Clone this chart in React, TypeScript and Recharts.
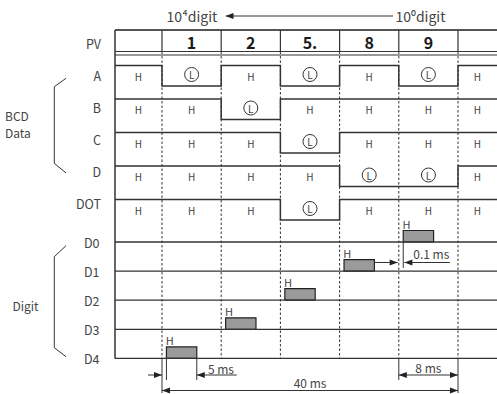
import React from 'react'
import { ComposedChart, XAxis, YAxis, Line, Scatter, ReferenceLine, ReferenceArea } from 'recharts'

// ---- values ----
const placeLabels = ['10⁴digit', '10⁰digit']
const pvDigits = ['1', '2', '5.', '8', '9']
const bcdNames = ['A', 'B', 'C', 'D', 'DOT']
// level of each BCD line per column: lead-in, the 5 digits, lead-out
const levelsA = ['H', 'L', 'H', 'L', 'H', 'L', 'H']
const levelsB = ['H', 'H', 'L', 'H', 'H', 'H', 'H']
const levelsC = ['H', 'H', 'H', 'L', 'H', 'H', 'H']
const levelsD = ['H', 'H', 'H', 'H', 'L', 'L', 'H']
const levelsDot = ['H', 'H', 'H', 'L', 'H', 'H', 'H']
const digitNames = ['D0', 'D1', 'D2', 'D3', 'D4']
const scanOrder = ['D4', 'D3', 'D2', 'D1', 'D0']
const slotMs = 8
const pulseOnMs = 0.6
const pulseOffMs = 4.7
const dimLabels = ['5 ms', '0.1 ms', '8 ms', '40 ms']
const groupLabels = ['BCD', 'Data', 'Digit']

// ---- layout ----
const W = 497
const H = 394
const X0 = 162 // where t = 0 sits
const PX_MS = 7.4
const toT = (px: number) => (px - X0) / PX_MS
const T_MIN = toT(0)
const T_MAX = toT(W)
const T_FRAME = toT(115)

const INK = '#333'
const TXT = '#444'
const FONT = '"Noto Sans CJK JP", "Noto Sans", sans-serif'

const PV_TOP = 30
const PV_BOT = 51.5
const SEP_Y = 55
const SWING = 20.5
const BCD_HI = bcdNames.map((_, i) => 65.5 + 33.5 * i)
const BCD_LABEL_Y = bcdNames.map((_, i) => 75.3 + 32.1 * i)
const DIGIT_Y = digitNames.map((_, i) => 242 + 29.1 * i)
const PULSE_H = 11.5
const GRID_BOT = DIGIT_Y[DIGIT_Y.length - 1]

const edges = [...pvDigits.map((_, i) => i * slotMs), pvDigits.length * slotMs]
const colBounds = [T_FRAME, ...edges, T_MAX]
const allLevels = [levelsA, levelsB, levelsC, levelsD, levelsDot]

const waveData = (levels: string[], hi: number) => {
  const pts = levels.map((lv, c) => ({ t: colBounds[c], y: lv === 'H' ? hi : hi + SWING }))
  pts.push({ t: T_MAX, y: pts[pts.length - 1].y })
  return pts
}

const mid = (c: number) => (colBounds[c] + colBounds[c + 1]) / 2
const hTags = allLevels.flatMap((lv, i) =>
  lv.map((v, c) => ({ v, c })).filter((o) => o.v === 'H').map((o) => ({ t: mid(o.c), y: BCD_HI[i] + 10.5, text: 'H' }))
)
const lTags = allLevels.flatMap((lv, i) =>
  lv.map((v, c) => ({ v, c })).filter((o) => o.v === 'L').map((o) => ({ t: mid(o.c), y: BCD_HI[i] + 9, text: 'L' }))
)

const pulses = scanOrder.map((name, s) => {
  const lane = DIGIT_Y[digitNames.indexOf(name)]
  return { x1: s * slotMs + pulseOnMs, x2: s * slotMs + pulseOffMs, y1: lane - PULSE_H, y2: lane }
})
const pulseTags = pulses.map((p) => ({ t: p.x1 - 0.1, y: p.y1 - 7, text: 'H', anchor: 'start' }))

const labelX = toT(101)
const sideTags = [
  { t: labelX, y: 43, text: 'PV' },
  ...bcdNames.map((n, i) => ({ t: labelX, y: BCD_LABEL_Y[i], text: n })),
  ...digitNames.map((n, i) => ({ t: labelX - 0.2, y: DIGIT_Y[i], text: n })),
].map((o) => ({ ...o, anchor: 'end' }))

const groupTags = [
  { t: toT(5), y: 115, text: groupLabels[0], anchor: 'start' },
  { t: toT(5), y: 132.5, text: groupLabels[1], anchor: 'start' },
  { t: toT(12.5), y: 305, text: groupLabels[2], anchor: 'start' },
]

const pvTags = pvDigits.map((d, i) => ({ t: mid(i + 1), y: 42, text: d }))

const lastSlot = (pvDigits.length - 1) * slotMs
const total = pvDigits.length * slotMs
const dimTags = [
  { t: pulseOffMs + 1.5, y: 368.5, text: dimLabels[0], anchor: 'start' },
  { t: lastSlot + 1.95, y: 253.5, text: dimLabels[1], anchor: 'start' },
  { t: lastSlot + slotMs / 2, y: 367, text: dimLabels[2], anchor: 'middle' },
  { t: total / 2, y: 382, text: dimLabels[3], anchor: 'middle' },
]
const topTags = [
  { t: toT(166.5), y: 16, text: placeLabels[0], anchor: 'start' },
  { t: toT(395.5), y: 16, text: placeLabels[1], anchor: 'start' },
]

// arrow heads: dir 1 points right, -1 points left
const heads = [
  { t: toT(225.5), y: 16, dir: -1 },
  { t: 0, y: 375, dir: 1 },
  { t: pulseOffMs, y: 375, dir: -1 },
  { t: lastSlot - 0.15, y: 262.5, dir: 1 },
  { t: lastSlot + pulseOnMs + 0.15, y: 262.5, dir: -1 },
  { t: lastSlot, y: 375, dir: -1 },
  { t: total, y: 375, dir: 1 },
  { t: 0, y: 390.5, dir: -1 },
  { t: total, y: 390.5, dir: 1 },
]

const textShape = (size: number, weight: number | string, color: string, defAnchor = 'middle') => (p: any) => (
  <text
    x={p.cx}
    y={p.cy}
    textAnchor={p.payload.anchor ?? defAnchor}
    dominantBaseline="central"
    fontFamily={FONT}
    fontSize={size}
    fontWeight={weight}
    fill={color}
  >
    {p.payload.text}
  </text>
)

const circleShape = (p: any) => (
  <g>
    <circle cx={p.cx} cy={p.cy} r={7} fill="#fff" stroke={INK} strokeWidth={1} />
    <text x={p.cx} y={p.cy} textAnchor="middle" dominantBaseline="central" fontFamily={FONT} fontSize={10} fill={TXT}>
      L
    </text>
  </g>
)

const headShape = (p: any) => {
  const d = p.payload.dir
  const pts = `${p.cx},${p.cy} ${p.cx - 8 * d},${p.cy - 3} ${p.cx - 8 * d},${p.cy + 3}`
  return <polygon points={pts} fill="#222" />
}

const seg = (key: string, x1: number, y1: number, x2: number, y2: number, extra: any = {}) => (
  <ReferenceLine
    key={key}
    segment={[{ x: x1, y: y1 }, { x: x2, y: y2 }]}
    stroke={INK}
    strokeWidth={1.2}
    ifOverflow="visible"
    {...extra}
  />
)

export default function App() {
  const bx = toT(54.3)
  const bx2 = toT(66)
  return (
    <div style={{ position: 'absolute', left: 0, top: 0, width: W, height: H, background: '#fff' }}>
      <ComposedChart width={W} height={H} margin={{ top: 0, right: 0, bottom: 0, left: 0 }}>
        <XAxis type="number" dataKey="t" domain={[T_MIN, T_MAX]} allowDataOverflow hide />
        <YAxis type="number" dataKey="y" domain={[0, H]} reversed allowDataOverflow hide />

        {/* PV header box */}
        {seg('pvtop', T_FRAME, PV_TOP, T_MAX, PV_TOP, { strokeWidth: 2, stroke: '#555' })}
        {seg('pvbot', T_FRAME, PV_BOT, T_MAX, PV_BOT)}
        {seg('sep', T_FRAME, SEP_Y, T_MAX, SEP_Y, { strokeWidth: 1 })}
        {seg('frame', T_FRAME, PV_TOP, T_FRAME, GRID_BOT, { strokeWidth: 1.5 })}
        {edges.map((t) => seg(`pvc${t}`, t, PV_TOP, t, PV_BOT))}

        {/* slot boundaries */}
        {edges.map((t) => seg(`dash${t}`, t, PV_BOT, t, GRID_BOT, { strokeDasharray: '2.5 2', strokeWidth: 1 }))}

        {/* digit lines */}
        {DIGIT_Y.map((y, i) => seg(`dl${i}`, T_FRAME, y, T_MAX, y, { strokeWidth: 1.3 }))}

        {pulses.map((p, i) => (
          <ReferenceArea
            key={`pulse${i}`}
            x1={p.x1}
            x2={p.x2}
            y1={p.y1}
            y2={p.y2}
            fill="#9b9b9b"
            fillOpacity={1}
            stroke="#222"
            strokeWidth={1.2}
            ifOverflow="visible"
          />
        ))}

        {allLevels.map((lv, i) => (
          <Line
            key={bcdNames[i]}
            data={waveData(lv, BCD_HI[i])}
            dataKey="y"
            type="stepAfter"
            stroke={INK}
            strokeWidth={1.5}
            dot={false}
            activeDot={false}
            isAnimationActive={false}
          />
        ))}

        {/* brackets */}
        {seg('b1a', bx2, 78.3, bx, 86.7, { strokeWidth: 1 })}
        {seg('b1b', bx, 86.7, bx, 163.3, { strokeWidth: 1 })}
        {seg('b1c', bx, 163.3, bx2, 173, { strokeWidth: 1 })}
        {seg('b2a', bx2, 245.7, bx, 256.7, { strokeWidth: 1 })}
        {seg('b2b', bx, 256.7, bx, 347.7, { strokeWidth: 1 })}
        {seg('b2c', bx, 347.7, bx2, 356.7, { strokeWidth: 1 })}

        {/* top arrow */}
        {seg('toparrow', toT(226), 16, toT(393), 16, { strokeWidth: 1 })}

        {/* dimension lines */}
        {seg('e0', 0, GRID_BOT, 0, 393, { strokeWidth: 1 })}
        {seg('eOn', pulseOnMs, GRID_BOT, pulseOnMs, 380, { strokeWidth: 1 })}
        {seg('eOff', pulseOffMs, GRID_BOT, pulseOffMs, 380, { strokeWidth: 1 })}
        {seg('e32', lastSlot, GRID_BOT, lastSlot, 380, { strokeWidth: 1 })}
        {seg('e40', total, GRID_BOT, total, 393, { strokeWidth: 1 })}
        {seg('d5a', toT(148), 375, 0, 375, { strokeWidth: 1 })}
        {seg('d5b', pulseOffMs, 375, pulseOffMs + 5.4, 375, { strokeWidth: 1 })}
        {seg('d8', lastSlot, 375, total, 375, { strokeWidth: 1 })}
        {seg('d40', 0, 390.5, total, 390.5, { strokeWidth: 1 })}
        {seg('d01a', lastSlot - slotMs + pulseOffMs, 262.5, lastSlot - 0.15, 262.5, { strokeWidth: 1 })}
        {seg('d01b', lastSlot + pulseOnMs + 0.15, 262.5, lastSlot + 6.9, 262.5, { strokeWidth: 1 })}
        {seg('e01', lastSlot + pulseOnMs, DIGIT_Y[0], lastSlot + pulseOnMs, 268, { strokeWidth: 1 })}

        <Scatter data={heads} shape={headShape} isAnimationActive={false} />
        <Scatter data={hTags} shape={textShape(10, 400, TXT)} isAnimationActive={false} />
        <Scatter data={lTags} shape={circleShape} isAnimationActive={false} />
        <Scatter data={pulseTags} shape={textShape(11, 400, TXT)} isAnimationActive={false} />
        <Scatter data={sideTags} shape={textShape(12.5, 400, TXT)} isAnimationActive={false} />
        <Scatter data={groupTags} shape={textShape(12, 400, TXT)} isAnimationActive={false} />
        <Scatter data={pvTags} shape={textShape(16, 700, '#1a1a1a')} isAnimationActive={false} />
        <Scatter data={dimTags} shape={textShape(12, 400, TXT)} isAnimationActive={false} />
        <Scatter data={topTags} shape={textShape(14, 400, TXT)} isAnimationActive={false} />
      </ComposedChart>
    </div>
  )
}
